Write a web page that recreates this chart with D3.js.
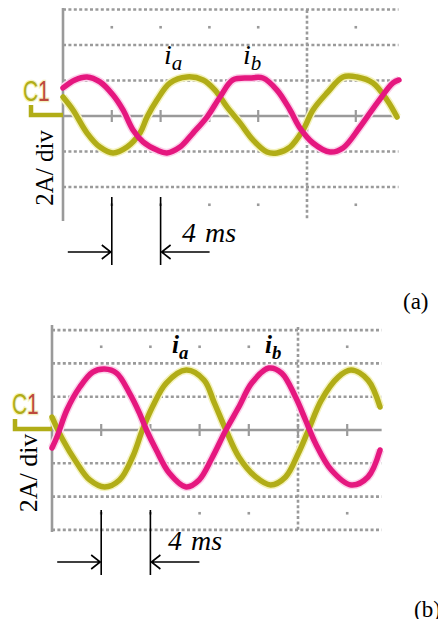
<!DOCTYPE html>
<html>
<head>
<meta charset="utf-8">
<script src="https://cdn.jsdelivr.net/npm/d3@7"></script>
<style>
  body { margin: 0; background: #fff; }
  svg { display: block; }
</style>
</head>
<body>
<script>
// values: time in ms, current in A

// panel (a)
const tA_ia = [0, 0.82, 1.97, 3.03, 4.10, 5.25, 6.31, 6.89, 7.70, 8.77, 10.16, 11.48, 12.46, 13.44, 14.51, 15.57, 16.72, 17.54, 18.61, 19.67, 20.49, 21.64, 22.95, 24.10, 25.41, 26.56, 27.38];
const iA_ia = [1.07, 0.34, -0.96, -1.75, -2.08, -1.75, -0.96, -0.06, 0.90, 1.86, 2.20, 2.03, 1.46, 0.51, -0.39, -1.35, -2.03, -2.08, -1.75, -0.79, 0.34, 1.30, 2.20, 2.20, 1.86, 0.90, -0.06];
const tA_ib = [0, 0.98, 1.97, 3.03, 4.10, 4.92, 5.74, 6.56, 7.70, 8.52, 9.59, 10.66, 11.80, 12.87, 13.93, 15.33, 16.39, 17.54, 18.61, 19.43, 20.49, 21.89, 22.95, 24.34, 25.74, 27.05, 27.54];
const iA_ib = [1.58, 2.03, 2.20, 1.92, 1.18, 0.34, -0.79, -1.46, -1.92, -2.08, -1.75, -0.96, -0.06, 1.07, 2.03, 2.14, 2.14, 1.46, 0.34, -0.68, -1.52, -2.03, -1.80, -0.62, 0.73, 1.86, 2.03];

// panel (b)
const tB_ia = [0, 0.89, 2.02, 3.07, 4.28, 5.49, 6.55, 7.35, 8.16, 9.29, 10.91, 12.36, 13.17, 14.14, 15.19, 16.56, 17.78, 18.99, 20.04, 20.85, 21.90, 23.27, 24.32, 25.69, 26.67];
const iB_ia = [0.78, -0.60, -1.98, -3.00, -3.42, -3.00, -1.62, 0, 1.38, 2.82, 3.60, 3.00, 1.68, 0, -1.62, -2.82, -3.30, -2.82, -1.38, 0, 1.80, 3.18, 3.60, 3.00, 1.38];
const tB_ib = [0, 0.40, 1.21, 2.26, 3.31, 4.28, 5.25, 6.30, 7.11, 7.68, 8.48, 9.53, 10.91, 11.96, 13.01, 14.14, 15.19, 16.24, 17.62, 18.67, 19.80, 20.61, 21.41, 22.71, 24.32, 25.69, 26.67];
const iB_ib = [-1.08, -0.42, 1.20, 2.58, 3.48, 3.66, 3.42, 2.22, 1.02, 0, -1.20, -2.58, -3.42, -3.00, -1.68, 0, 1.38, 2.82, 3.72, 3.42, 1.98, 0.60, -0.78, -2.40, -3.30, -2.82, -1.20];

const gridAmps = [6, 4, 2, -2, -4, -6];
const tickMs = [4, 8, 12, 16, 20, 24];
const dotMs = [4, 8, 12, 16, 24];
const dotAmps = [5, -5];
const dashMs = 20;
const spanMs = [4, 8];
const spanText = ['4', 'ms'];
const scaleText = '2A/ div';
const panelTags = ['(a)', '(b)'];
const seriesSubs = ['a', 'b'];

const W = 438, H = 619;
const gray = '#9a9a9a';
const olive = '#b1ad17', oliveHalo = '#f4f2bd';
const pink = '#e5177f', pinkHalo = '#fbd2ea';
const serif = '"Liberation Serif", "Times New Roman", serif';

const svg = d3.select('body').append('svg')
    .attr('width', W)
    .attr('height', H);

// frame geometry of each capture
const layout = [
    { x0: 63, msPx: 12.2, tMax: 27.5, yc: 116, ampPx: 17.75, top: 8, bottom: 221, grid: gridAmps.slice(0, 5),
      series: [[tA_ia, iA_ia], [tA_ib, iA_ib]], bold: false,
      labelX: [164, 243], labelY: 64, labelSize: 28,
      c1: [23, 101], marker: [30, 115], scaleLbl: [53, 168, 25],
      spanY: [197, 265, 252], spanTxt: [182, 242], tag: [403, 309] },
    { x0: 52, msPx: 12.3, tMax: 26.8, yc: 430, ampPx: 16.65, top: 325, bottom: 532, grid: gridAmps,
      series: [[tB_ia, iB_ia], [tB_ib, iB_ib]], bold: true,
      labelX: [172, 265], labelY: 353, labelSize: 25,
      c1: [12, 414], marker: [14, 429], scaleLbl: [37, 473, 26],
      spanY: [510, 575, 562], spanTxt: [168, 550], tag: [414, 617] }
];

layout.forEach((p, k) => {
    const x = d3.scaleLinear().domain([0, p.tMax]).range([p.x0, p.x0 + p.tMax * p.msPx]);
    const y = d3.scaleLinear().domain([-6, 6]).range([p.yc + 6 * p.ampPx, p.yc - 6 * p.ampPx]);
    const g = svg.append('g');

    // dotted graticule
    g.selectAll('line.grid')
        .data(p.grid)
        .join('line')
        .attr('x1', x(0)).attr('x2', x(p.tMax))
        .attr('y1', d => y(d)).attr('y2', d => y(d))
        .attr('stroke', gray).attr('stroke-width', 2.6)
        .attr('stroke-dasharray', '3 2.4');

    g.append('line')
        .attr('x1', x(dashMs)).attr('x2', x(dashMs))
        .attr('y1', p.top + 2).attr('y2', p.bottom - 1)
        .attr('stroke', gray).attr('stroke-width', 2.6)
        .attr('stroke-dasharray', '3 2.4');

    // single dots in first and last division
    const dots = [];
    dotMs.forEach(t => dotAmps.forEach(a => dots.push([t, a])));
    g.selectAll('rect.dot')
        .data(dots)
        .join('rect')
        .attr('x', d => x(d[0]) - 1.3).attr('y', d => y(d[1]) - 1.3)
        .attr('width', 2.6).attr('height', 2.6)
        .attr('fill', gray);

    // centre line with ticks, left axis
    g.append('line')
        .attr('x1', x(0)).attr('x2', x(p.tMax))
        .attr('y1', y(0)).attr('y2', y(0))
        .attr('stroke', gray).attr('stroke-width', 2.6);
    g.selectAll('line.tick')
        .data(tickMs)
        .join('line')
        .attr('x1', d => x(d)).attr('x2', d => x(d))
        .attr('y1', y(0) - 6).attr('y2', y(0) + 6)
        .attr('stroke', gray).attr('stroke-width', 2.2);
    g.append('line')
        .attr('x1', x(0)).attr('x2', x(0))
        .attr('y1', p.top).attr('y2', p.bottom)
        .attr('stroke', gray).attr('stroke-width', 2.6);

    // waveforms
    const line = d3.line()
        .x(d => x(d[0]))
        .y(d => y(d[1]))
        .curve(d3.curveCatmullRom.alpha(0.5));
    const pts = p.series.map(s => s[0].map((t, i) => [t, s[1][i]]));
    const cols = [[olive, oliveHalo], [pink, pinkHalo]];
    pts.forEach((d, i) => {
        g.append('path').datum(d).attr('d', line)
            .attr('fill', 'none').attr('stroke', cols[i][1])
            .attr('stroke-width', 8.5).attr('stroke-linejoin', 'round');
    });
    pts.forEach((d, i) => {
        g.append('path').datum(d).attr('d', line)
            .attr('fill', 'none').attr('stroke', cols[i][0])
            .attr('stroke-width', 5.5).attr('stroke-linejoin', 'round')
            .attr('stroke-linecap', 'round');
    });

    // series names
    seriesSubs.forEach((s, i) => {
        const t = g.append('text')
            .attr('x', p.labelX[i]).attr('y', p.labelY)
            .attr('font-family', serif)
            .attr('font-style', 'italic')
            .attr('font-weight', p.bold ? 'bold' : 'normal')
            .attr('fill', '#000');
        t.append('tspan').attr('font-size', p.labelSize).text('i');
        t.append('tspan').attr('font-size', p.labelSize * 0.75).attr('dy', 6).text(s);
    });

    // channel tag (tall, narrow scope font) and ground marker
    const c1 = g.append('text')
        .attr('transform', `translate(${p.c1[0]},${p.c1[1]}) scale(0.95,1.33)`)
        .attr('font-family', '"Liberation Sans", Arial, sans-serif')
        .attr('font-size', 22)
        .attr('stroke', oliveHalo).attr('stroke-width', 2)
        .attr('paint-order', 'stroke');
    c1.append('tspan').attr('fill', olive).text('C');
    c1.append('tspan').attr('fill', '#bd4a3c').text('1');

    g.append('path')
        .attr('d', `M${p.marker[0] + 1},${p.marker[1] - 10} V${p.marker[1]} H${x(0)}`)
        .attr('fill', 'none').attr('stroke', olive).attr('stroke-width', 4.5);

    g.append('text')
        .attr('transform', `translate(${p.scaleLbl[0]},${p.scaleLbl[1]}) rotate(-90)`)
        .attr('text-anchor', 'middle')
        .attr('font-family', serif)
        .attr('font-size', p.scaleLbl[2])
        .text(scaleText);

    // 4 ms span marker
    const ann = g.append('g').attr('stroke', '#000').attr('stroke-width', 1.6).attr('fill', 'none');
    spanMs.forEach(t => {
        ann.append('line')
            .attr('x1', x(t)).attr('x2', x(t))
            .attr('y1', p.spanY[0]).attr('y2', p.spanY[1]);
    });
    const ay = p.spanY[2];
    const xl = x(spanMs[0]) - 1, xr = x(spanMs[1]) + 1;
    ann.append('path').attr('d', `M${xl - 43},${ay} H${xl} M${xl - 9},${ay - 7} L${xl},${ay} L${xl - 9},${ay + 7}`);
    ann.append('path').attr('d', `M${xr + 48},${ay} H${xr} M${xr + 9},${ay - 7} L${xr},${ay} L${xr + 9},${ay + 7}`);

    const st = g.append('text')
        .attr('y', p.spanTxt[1])
        .attr('font-family', serif)
        .attr('font-style', 'italic')
        .attr('font-size', 28);
    st.append('tspan').attr('x', p.spanTxt[0]).text(spanText[0]);
    st.append('tspan').attr('x', p.spanTxt[0] + 23).text(spanText[1]);

    g.append('text')
        .attr('x', p.tag[0]).attr('y', p.tag[1])
        .attr('font-family', serif)
        .attr('font-size', 23)
        .text(panelTags[k]);
});
</script>
</body>
</html>
